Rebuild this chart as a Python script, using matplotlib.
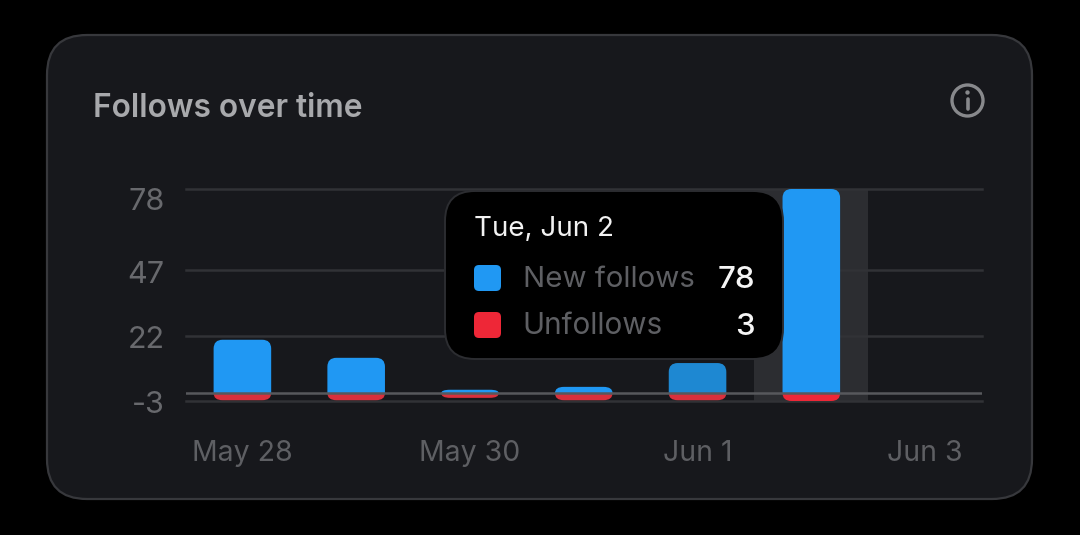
import matplotlib
matplotlib.use("Agg")
import matplotlib.pyplot as plt
from matplotlib.patches import FancyBboxPatch, PathPatch, Circle
from matplotlib.path import Path
from matplotlib.transforms import ScaledTranslation

plt.rcParams['font.family'] = ['Inter', 'DejaVu Sans']

# Daily follow activity
dates = ["May 28", "May 29", "May 30", "May 31", "Jun 1", "Jun 2", "Jun 3"]
new_follows = [20.4, 13.5, 1.3, 2.4, 11.5, 78, 0]
unfollows = [2.7, 2.7, 1.8, 2.7, 2.7, 3, 0]
y_ticks = [-3, 22, 47, 78]
y_tick_labels = ["-3", "22", "47", "78"]
y_label_drop_px = [4, 4, 5, 12.5]
x_tick_positions = [0, 2, 4, 6]
highlight = 5

BG = "#000000"
CARD = "#17181c"
CARD_EDGE = "#37383c"
GRID = "#313236"
ZERO = "#57585c"
BAND = "#2c2d31"
BLUE = "#2098f3"
BLUE_SHADED = "#1e88d2"
RED = "#ee2737"
RED_DIM = "#d9303c"
W, H = 1080, 535

fig = plt.figure(figsize=(W / 100, H / 100), dpi=100, facecolor=BG)


def pixel_axes(zorder):
    ax = fig.add_axes([0, 0, 1, 1], zorder=zorder)
    ax.set_xlim(0, W)
    ax.set_ylim(H, 0)
    ax.axis("off")
    return ax


def rounded(ax, x0, y0, x1, y1, r, **kw):
    ax.add_patch(FancyBboxPatch((x0, y0), x1 - x0, y1 - y0,
                                boxstyle=f"round,pad=0,rounding_size={r}", **kw))


def one_side_round(ax, x0, x1, base, tip, rx, ry, **kw):
    """Bar whose corners are rounded only at the tip end."""
    sign = 1 if tip > base else -1
    ry = min(ry, abs(tip - base))
    verts = [(x0, base), (x0, tip - sign * ry), (x0, tip), (x0 + rx, tip),
             (x1 - rx, tip), (x1, tip), (x1, tip - sign * ry), (x1, base), (x0, base)]
    codes = [Path.MOVETO, Path.LINETO, Path.CURVE3, Path.CURVE3,
             Path.LINETO, Path.CURVE3, Path.CURVE3, Path.LINETO, Path.CLOSEPOLY]
    ax.add_patch(PathPatch(Path(verts, codes), lw=0, clip_on=False, **kw))


# Card
back = pixel_axes(0)
rounded(back, 47, 35, 1032, 499, 40, fc=CARD, ec=CARD_EDGE, lw=1.6)
back.text(93, 117, "Follows over time", color="#a8a9ac", fontsize=22.8,
          fontweight="semibold", va="baseline", ha="left")
back.add_patch(Circle((967.5, 100.5), 15.5, fc="none", ec="#88898c", lw=2.4))
back.add_patch(Circle((967.5, 92.5), 2.2, fc="#88898c", ec="none"))
back.plot([967.5, 967.5], [99, 109], color="#88898c", lw=2.6, solid_capstyle="round")

# Chart
ax = fig.add_axes([185.5 / W, 1 - 401 / H, 796.5 / W, 212 / H], zorder=1)
ax.patch.set_alpha(0)
ax.set_xlim(-0.5, 6.5)
ax.set_ylim(-3, 78)
for s in ax.spines.values():
    s.set_visible(False)

ax.axvspan(highlight - 0.5, highlight + 0.5, color=BAND, lw=0, zorder=1)
ax.set_yticks(y_ticks, y_tick_labels)
ax.set_xticks(x_tick_positions, [dates[i] for i in x_tick_positions])
ax.tick_params(axis="y", length=0, pad=15.2, labelsize=22, labelcolor="#68696d")
ax.tick_params(axis="x", length=0, pad=28, labelsize=20.5, labelcolor="#5e5f63")
for t, drop in zip(ax.get_yticklabels(), y_label_drop_px):
    t.set_va("center")
    t.set_transform(t.get_transform() + ScaledTranslation(0, -drop / 100, fig.dpi_scale_trans))
ax.grid(axis="y", color=GRID, lw=1.8, zorder=2)
ax.set_axisbelow(False)
for g in ax.get_ygridlines():
    g.set_zorder(2)
    g.set_clip_on(False)

half = 0.253
rx = 9 / 114
ry = 9 / (212 / 81)
for i, (pos, neg) in enumerate(zip(new_follows, unfollows)):
    if pos <= 0 and neg <= 0:
        continue
    blue = BLUE_SHADED if i == 4 else BLUE
    red = RED if i == highlight else RED_DIM
    one_side_round(ax, i - half, i + half, 0, pos, rx, ry, fc=blue, ec="none", zorder=3)
    one_side_round(ax, i - half, i + half, 0, -neg, rx, ry, fc=red, ec="none", zorder=3)
ax.axhline(0, color=ZERO, lw=1.8, zorder=4)

# Tooltip for the highlighted day
top = pixel_axes(2)
rounded(top, 445, 191, 783, 359, 30, fc="#000000", ec="#2c2d31", lw=1.4)
top.text(473.5, 236, "Tue, Jun 2", color="#f2f2f2", fontsize=20, va="baseline")
rounded(top, 474, 265, 501, 291, 5, fc=BLUE, ec="none")
rounded(top, 474, 312, 501, 338, 5, fc=RED, ec="none")
top.text(523, 287, "New follows", color="#5e5f63", fontsize=21.2, va="baseline")
top.text(522.5, 334.5, "Unfollows", color="#5e5f63", fontsize=21.4, va="baseline")
top.text(755, 288, f"{new_follows[highlight]}", color="#f5f5f5", fontsize=22.5,
         fontweight="medium", ha="right", va="baseline")
top.text(754.5, 335, f"{unfollows[highlight]}", color="#f5f5f5", fontsize=22.5,
         fontweight="medium", ha="right", va="baseline")

fig.savefig("out.png", dpi=100, facecolor=BG)
